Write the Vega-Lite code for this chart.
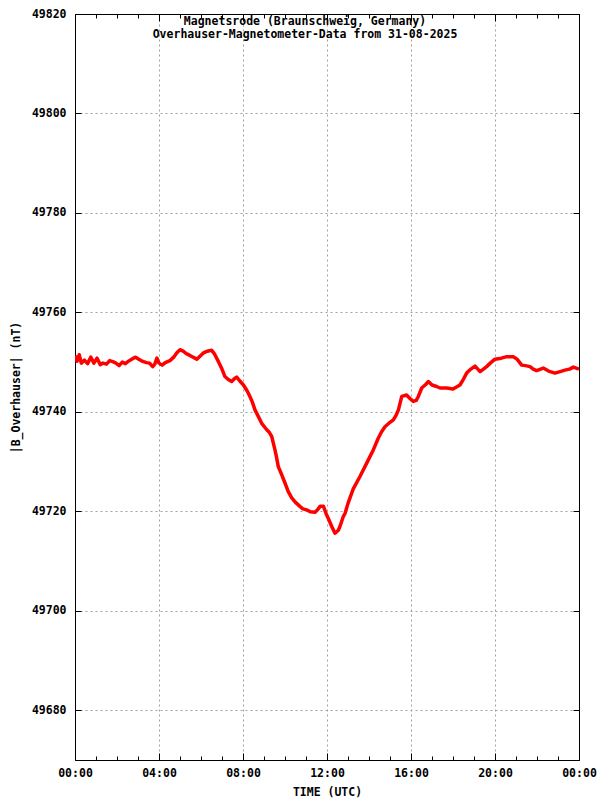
{
  "$schema": "https://vega.github.io/schema/vega-lite/v6.json",
  "width": 504,
  "height": 746,
  "autosize": {"type": "none"},
  "padding": {"left": 75, "top": 14, "right": 21, "bottom": 40},
  "background": "white",
  "title": {
    "text": ["Magnetsrode (Braunschweig, Germany)\u00a0\u00a0\u00a0", "Overhauser-Magnetometer-Data from 31-08-2025"],
    "font": "DejaVu Sans Mono",
    "fontSize": 11.5,
    "fontWeight": "bold",
    "color": "black",
    "anchor": "middle",
    "dx": -22,
    "offset": -32,
    "lineHeight": 13
  },
  "config": {
    "view": {"stroke": "black", "strokeWidth": 1},
    "axis": {
      "labelFont": "DejaVu Sans Mono",
      "labelFontSize": 11.5,
      "labelFontWeight": "bold",
      "labelColor": "black",
      "titleFont": "DejaVu Sans Mono",
      "titleFontSize": 11.5,
      "titleFontWeight": "bold",
      "titleColor": "black",
      "domainColor": "black",
      "tickColor": "black",
      "gridColor": "#a0a0a0",
      "gridDash": [2, 3],
      "gridWidth": 1
    }
  },
  "data": {
    "values": [
      {"t": 0.0, "B": 49751.3}, {"t": 0.1, "B": 49750.2}, {"t": 0.2, "B": 49751.5}, {"t": 0.3, "B": 49749.8},
      {"t": 0.45, "B": 49750.4}, {"t": 0.6, "B": 49749.7}, {"t": 0.75, "B": 49751.0}, {"t": 0.9, "B": 49749.8},
      {"t": 1.05, "B": 49750.8}, {"t": 1.2, "B": 49749.5}, {"t": 1.33, "B": 49749.8}, {"t": 1.5, "B": 49749.6},
      {"t": 1.65, "B": 49750.3}, {"t": 1.8, "B": 49750.1}, {"t": 1.95, "B": 49749.8}, {"t": 2.1, "B": 49749.3},
      {"t": 2.25, "B": 49750.0}, {"t": 2.4, "B": 49749.7}, {"t": 2.55, "B": 49750.2}, {"t": 2.7, "B": 49750.6},
      {"t": 2.86, "B": 49751.0}, {"t": 3.0, "B": 49750.7}, {"t": 3.2, "B": 49750.2}, {"t": 3.4, "B": 49749.9},
      {"t": 3.55, "B": 49749.8}, {"t": 3.7, "B": 49749.1}, {"t": 3.8, "B": 49749.6}, {"t": 3.9, "B": 49750.8},
      {"t": 4.0, "B": 49749.8}, {"t": 4.15, "B": 49749.4}, {"t": 4.3, "B": 49749.9}, {"t": 4.52, "B": 49750.3},
      {"t": 4.7, "B": 49751.0}, {"t": 4.85, "B": 49751.9}, {"t": 5.0, "B": 49752.5}, {"t": 5.15, "B": 49752.2},
      {"t": 5.3, "B": 49751.7}, {"t": 5.45, "B": 49751.4}, {"t": 5.62, "B": 49751.0}, {"t": 5.8, "B": 49750.6},
      {"t": 5.95, "B": 49751.2}, {"t": 6.1, "B": 49751.8}, {"t": 6.3, "B": 49752.2}, {"t": 6.5, "B": 49752.4},
      {"t": 6.65, "B": 49751.6}, {"t": 6.83, "B": 49750.1}, {"t": 7.0, "B": 49748.6}, {"t": 7.14, "B": 49747.1},
      {"t": 7.3, "B": 49746.5}, {"t": 7.46, "B": 49746.1}, {"t": 7.6, "B": 49746.7}, {"t": 7.7, "B": 49747.0},
      {"t": 7.85, "B": 49746.2}, {"t": 8.02, "B": 49745.4}, {"t": 8.2, "B": 49744.2}, {"t": 8.33, "B": 49743.1},
      {"t": 8.45, "B": 49741.9}, {"t": 8.57, "B": 49740.4}, {"t": 8.75, "B": 49738.9}, {"t": 8.89, "B": 49737.7},
      {"t": 9.0, "B": 49737.1}, {"t": 9.13, "B": 49736.4}, {"t": 9.25, "B": 49735.9}, {"t": 9.37, "B": 49735.0},
      {"t": 9.45, "B": 49733.6}, {"t": 9.52, "B": 49732.4}, {"t": 9.6, "B": 49730.8}, {"t": 9.68, "B": 49729.0},
      {"t": 9.85, "B": 49727.3}, {"t": 10.0, "B": 49725.7}, {"t": 10.15, "B": 49724.0}, {"t": 10.32, "B": 49722.7},
      {"t": 10.5, "B": 49721.8}, {"t": 10.71, "B": 49721.0}, {"t": 10.85, "B": 49720.5}, {"t": 11.03, "B": 49720.3},
      {"t": 11.2, "B": 49719.9}, {"t": 11.43, "B": 49719.8}, {"t": 11.55, "B": 49720.3}, {"t": 11.67, "B": 49721.0},
      {"t": 11.83, "B": 49721.0}, {"t": 11.98, "B": 49719.3}, {"t": 12.1, "B": 49718.2}, {"t": 12.22, "B": 49717.0},
      {"t": 12.38, "B": 49715.6}, {"t": 12.54, "B": 49716.2}, {"t": 12.62, "B": 49717.0}, {"t": 12.78, "B": 49719.0},
      {"t": 12.86, "B": 49719.6}, {"t": 13.0, "B": 49721.6}, {"t": 13.25, "B": 49724.5}, {"t": 13.57, "B": 49727.0},
      {"t": 13.89, "B": 49729.7}, {"t": 14.21, "B": 49732.4}, {"t": 14.44, "B": 49734.7}, {"t": 14.6, "B": 49736.0},
      {"t": 14.76, "B": 49737.0}, {"t": 15.0, "B": 49737.9}, {"t": 15.16, "B": 49738.4}, {"t": 15.3, "B": 49739.4},
      {"t": 15.4, "B": 49740.4}, {"t": 15.56, "B": 49743.1}, {"t": 15.79, "B": 49743.4}, {"t": 15.95, "B": 49742.7},
      {"t": 16.11, "B": 49742.1}, {"t": 16.25, "B": 49742.3}, {"t": 16.35, "B": 49743.1}, {"t": 16.51, "B": 49744.8},
      {"t": 16.7, "B": 49745.5}, {"t": 16.83, "B": 49746.1}, {"t": 17.0, "B": 49745.4}, {"t": 17.22, "B": 49745.1},
      {"t": 17.38, "B": 49744.8}, {"t": 17.7, "B": 49744.8}, {"t": 18.0, "B": 49744.6}, {"t": 18.33, "B": 49745.4},
      {"t": 18.5, "B": 49746.6}, {"t": 18.65, "B": 49747.8}, {"t": 18.85, "B": 49748.6}, {"t": 19.05, "B": 49749.2},
      {"t": 19.29, "B": 49748.1}, {"t": 19.45, "B": 49748.6}, {"t": 19.6, "B": 49749.1}, {"t": 19.8, "B": 49749.9},
      {"t": 20.0, "B": 49750.6}, {"t": 20.3, "B": 49750.8}, {"t": 20.56, "B": 49751.1}, {"t": 20.87, "B": 49751.1},
      {"t": 21.05, "B": 49750.6}, {"t": 21.27, "B": 49749.4}, {"t": 21.45, "B": 49749.3}, {"t": 21.67, "B": 49749.1},
      {"t": 21.82, "B": 49748.6}, {"t": 21.98, "B": 49748.3}, {"t": 22.3, "B": 49748.8}, {"t": 22.55, "B": 49748.2},
      {"t": 22.86, "B": 49747.8}, {"t": 23.1, "B": 49748.1}, {"t": 23.33, "B": 49748.4}, {"t": 23.55, "B": 49748.6},
      {"t": 23.73, "B": 49749.0}, {"t": 24.0, "B": 49748.6}
    ]
  },
  "layer": [
    {
      "mark": {"type": "line", "color": "#ff0000", "strokeWidth": 3.5, "strokeJoin": "round", "clip": true},
      "encoding": {
        "x": {
          "field": "t", "type": "quantitative",
          "scale": {"domain": [0, 24], "nice": false, "zero": false},
          "axis": {
            "orient": "bottom",
            "title": "TIME (UTC)",
            "titlePadding": 5,
            "values": [0,1,2,3,4,5,6,7,8,9,10,11,12,13,14,15,16,17,18,19,20,21,22,23,24],
            "labelExpr": "datum.value % 4 == 0 ? ((datum.value % 24) < 10 ? '0' : '') + (datum.value % 24) + ':00' : ''",
            "tickSize": {"condition": {"test": "datum.value % 4 == 0", "value": -7}, "value": -4},
            "labelPadding": 14,
            "labelFlush": false,
            "labelOverlap": false,
            "grid": true,
            "gridOpacity": {"condition": {"test": "datum.value % 4 == 0", "value": 1}, "value": 0},
            "domainColor": "black"
          }
        },
        "y": {
          "field": "B", "type": "quantitative",
          "scale": {"domain": [49670, 49820], "nice": false, "zero": false},
          "axis": {
            "orient": "left",
            "title": "|B_Overhauser| (nT)",
            "titlePadding": 10,
            "values": [49680, 49700, 49720, 49740, 49760, 49780, 49800, 49820],
            "format": "d",
            "tickSize": -6,
            "labelPadding": 15,
            "grid": true
          }
        }
      }
    },
    {
      "mark": {"type": "line", "opacity": 0},
      "encoding": {
        "x": {
          "field": "t", "type": "quantitative",
          "axis": {
            "orient": "top",
            "title": null,
            "labels": false,
            "values": [0,1,2,3,4,5,6,7,8,9,10,11,12,13,14,15,16,17,18,19,20,21,22,23,24],
            "tickSize": {"condition": {"test": "datum.value % 4 == 0", "value": -7}, "value": -4},
            "grid": false
          }
        },
        "y": {
          "field": "B", "type": "quantitative",
          "axis": {
            "orient": "right",
            "title": null,
            "labels": false,
            "values": [49680, 49700, 49720, 49740, 49760, 49780, 49800, 49820],
            "tickSize": -6,
            "grid": false
          }
        }
      }
    }
  ],
  "resolve": {"axis": {"x": "independent", "y": "independent"}}
}
